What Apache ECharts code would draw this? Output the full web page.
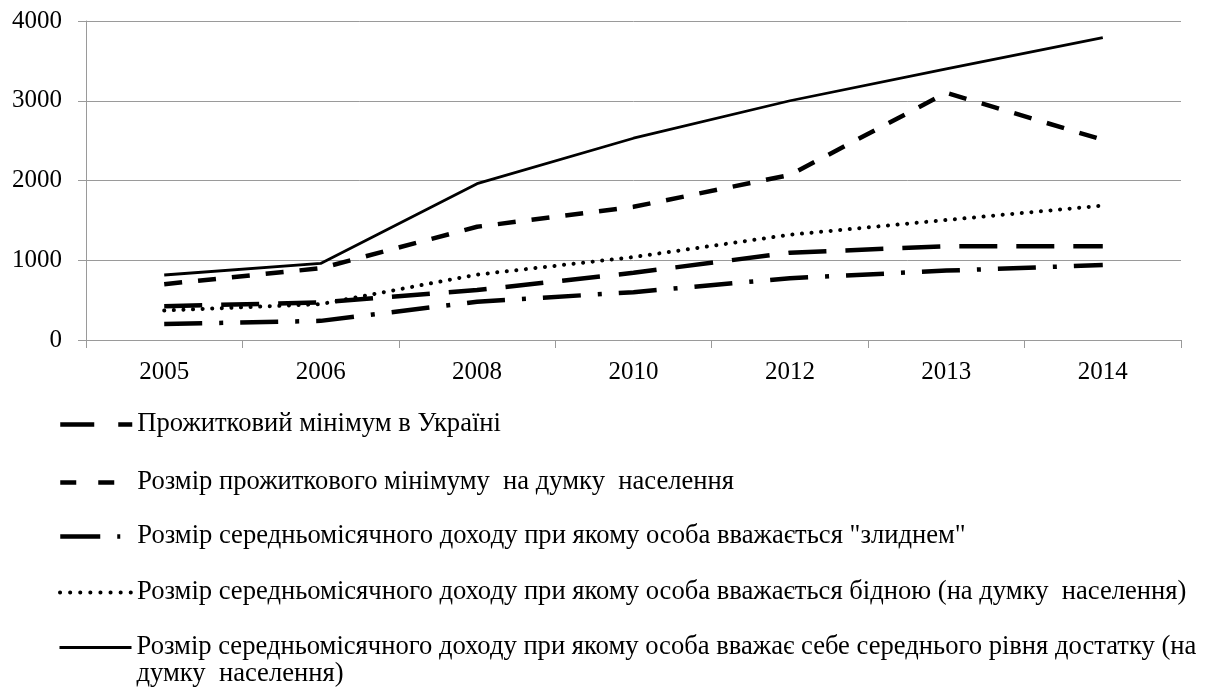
<!DOCTYPE html>
<html>
<head>
<meta charset="utf-8">
<script src="https://cdn.jsdelivr.net/npm/echarts@6/dist/echarts.min.js"></script>
<style>
    html, body { margin: 0; padding: 0; background: #fff; }
    #chart { width: 1217px; height: 691px; }
</style>
</head>
<body>
<div id="chart"></div>
<script>
// роки
var years = ['2005', '2006', '2008', '2010', '2012', '2013', '2014'];
// назви рядів
var names = [
    'Прожитковий мінімум в Україні',
    'Розмір прожиткового мінімуму  на думку  населення',
    'Розмір середньомісячного доходу при якому особа вважається "злиднем"',
    'Розмір середньомісячного доходу при якому особа вважається бідною (на думку  населення)',
    'Розмір середньомісячного доходу при якому особа вважає себе середнього рівня достатку (на думку  населення)'
];
// значення
var minimum = [423, 472, 626, 843, 1095, 1176, 1176];
var minimumOpinion = [700, 900, 1420, 1670, 2070, 3100, 2510];
var destitute = [200, 240, 480, 600, 775, 870, 940];
var poor = [370, 450, 820, 1040, 1320, 1505, 1685];
var middle = [815, 960, 1960, 2530, 3000, 3400, 3790];
var yTicks = [0, 1000, 2000, 3000, 4000];

var font = 'Liberation Serif';
var gray = '#9a9a9a';

var myChart = echarts.init(document.getElementById('chart'));

// одна легенда на кожен ряд, щоб точно поставити по вертикалі
function legendItem(i, top, dash, width, cap, formatter) {
    var lg = {
        data: [names[i]],
        left: 58,
        top: top,
        padding: 0,
        itemWidth: 72,
        itemHeight: 24,
        selectedMode: false,
        itemStyle: { opacity: 0 },
        textStyle: { fontFamily: font, fontSize: 26.6, color: '#000', lineHeight: 24 },
        lineStyle: { color: '#000', width: width, type: dash, cap: cap }
    };
    if (formatter) {
        lg.formatter = formatter;
        lg.textStyle.lineHeight = 27;
    }
    return lg;
}

var option = {
    animation: false,
    backgroundColor: '#fff',
    grid: {
        left: 86,
        right: 36,
        top: 21,
        bottom: 351
    },
    legend: [
        legendItem(0, 411, [34, 24, 14, 10], 4.5, 'butt'),
        legendItem(1, 469, [16, 22], 4.5, 'butt'),
        legendItem(2, 523, [40, 17, 3, 30], 4.5, 'butt'),
        legendItem(3, 579, [0.1, 10], 4, 'round'),
        // останній підпис у два рядки, значок на рівні першого рядка
        legendItem(4, 607, 'solid', 3, 'butt', function () {
            return '\nРозмір середньомісячного доходу при якому особа вважає себе середнього рівня достатку (на\nдумку  населення)';
        })
    ],
    xAxis: {
        type: 'category',
        data: years,
        boundaryGap: true,
        axisLine: { lineStyle: { color: gray, width: 1 } },
        axisTick: { show: true, length: 8, lineStyle: { color: gray } },
        axisLabel: { color: '#000', fontFamily: font, fontSize: 25, margin: 20 }
    },
    yAxis: {
        type: 'value',
        min: yTicks[0],
        max: yTicks[yTicks.length - 1],
        interval: 1000,
        axisLine: { show: true, lineStyle: { color: gray, width: 1 } },
        axisTick: { show: true, length: 8, lineStyle: { color: gray } },
        splitLine: { lineStyle: { color: gray, width: 1 } },
        axisLabel: {
            color: '#000', fontFamily: font, fontSize: 25, margin: 24,
            formatter: function (v) { return String(v); }
        }
    },
    series: [
        {
            name: names[0], type: 'line', data: minimum, symbol: 'none',
            lineStyle: { color: '#000', width: 4.5, type: [38, 19] }
        },
        {
            name: names[1], type: 'line', data: minimumOpinion, symbol: 'none',
            lineStyle: { color: '#000', width: 4.5, type: [18, 16] }
        },
        {
            name: names[2], type: 'line', data: destitute, symbol: 'none',
            lineStyle: { color: '#000', width: 4.5, type: [38, 17, 4, 17] }
        },
        {
            name: names[3], type: 'line', data: poor, symbol: 'none',
            lineStyle: { color: '#000', width: 4, type: [0.1, 9.5], cap: 'round' }
        },
        {
            name: names[4], type: 'line', data: middle, symbol: 'none',
            lineStyle: { color: '#000', width: 2.8 }
        }
    ]
};

myChart.setOption(option);
</script>
</body>
</html>
